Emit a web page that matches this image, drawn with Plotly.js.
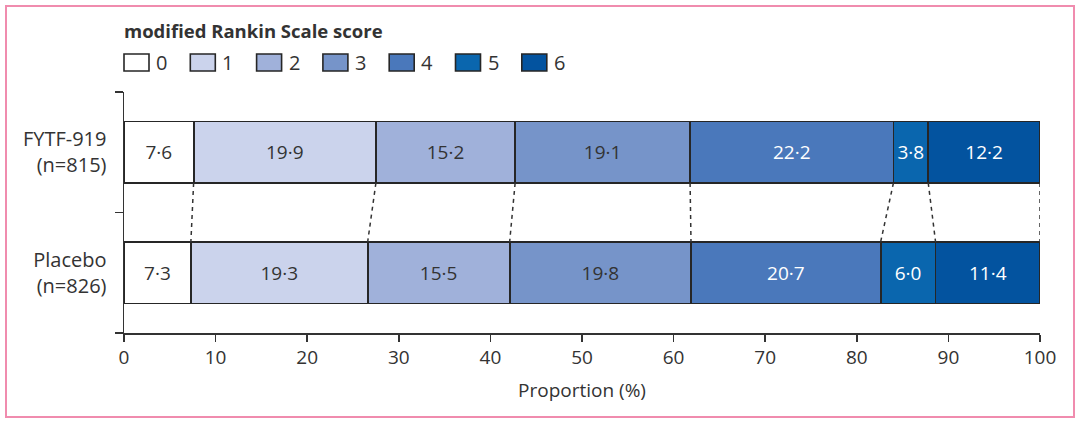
<!DOCTYPE html>
<html>
<head>
<meta charset="utf-8">
<script src="https://cdn.plot.ly/plotly-3.0.1.min.js"></script>
<style>
html,body{margin:0;padding:0;background:#fff;}
#wrap{position:relative;width:1080px;height:422px;}
#chart{width:1080px;height:422px;}
#frame{position:absolute;left:5px;top:5px;width:1066px;height:409px;border:2px solid #f08cae;pointer-events:none;}
</style>
</head>
<body>
<div id="wrap"><div id="chart"></div><div id="frame"></div></div>
<script>
// Data
var groups = ["Placebo<br>(n=826)", "FYTF-919<br>(n=815)"];
var scores = ["0", "1", "2", "3", "4", "5", "6"];
var fytf    = [7.6, 19.9, 15.2, 19.1, 22.2, 3.8, 12.2];
var placebo = [7.3, 19.3, 15.5, 19.8, 20.7, 6.0, 11.4];
var xTicks = [0, 10, 20, 30, 40, 50, 60, 70, 80, 90, 100];
var legendTitle = "modified Rankin Scale score";
var xTitle = "Proportion (%)";
var colors = ["#ffffff", "#cbd3ec", "#a0b1da", "#7694c9", "#4a78bb", "#0a66ae", "#03539f"];
var textColors = ["#333333", "#333333", "#333333", "#333333", "#ffffff", "#ffffff", "#ffffff"];

var FONT = "'Open Sans', 'Noto Sans', sans-serif";
var TXT = "#333333";
var BARW = 0.51;

var W = 1080, H = 422;
var M = {l: 124, r: 40, t: 92, b: 89};
var PW = W - M.l - M.r, PH = H - M.t - M.b;
function px2x(p){ return (p - M.l) / PW; }      // page px -> paper x
function py2y(p){ return (H - M.b - p) / PH; }  // page px -> paper y

function fmt(v){ return v.toFixed(1).replace(".", "\u00b7"); }

var traces = scores.map(function(s, i){
  var vals = [placebo[i], fytf[i]];
  return {
    type: "bar",
    orientation: "h",
    name: s,
    y: [0, 1],
    x: vals,
    width: BARW,
    text: vals.map(fmt),
    textposition: "inside",
    insidetextanchor: "middle",
    textangle: 0,
    constraintext: "none",
    textfont: {family: FONT, size: 19, color: textColors[i]},
    marker: {color: colors[i], line: {color: "#262626", width: 1.8}},
    showlegend: false,
    hoverinfo: "skip"
  };
});

// invisible trace to activate yaxis2 for boundary ticks
traces.push({type: "scatter", x: [0], y: [0], yaxis: "y2", mode: "markers",
  marker: {opacity: 0}, showlegend: false, hoverinfo: "skip"});

// dashed connectors between cumulative boundaries
var shapes = [];
var cf = 0, cp = 0;
for (var i = 0; i < scores.length; i++) {
  cf += fytf[i]; cp += placebo[i];
  shapes.push({
    type: "line", xref: "x", yref: "y",
    x0: cf, y0: 1 - BARW/2, x1: cp, y1: 0 + BARW/2,
    line: {color: "#333333", width: 1.5, dash: "4px,4px"}
  });
}

// custom legend
var annotations = [];
var LEG_STEP = 66.3, BOX_W = 25, BOX_TOP = 54, BOX_BOT = 71;
annotations.push({
  xref: "paper", yref: "paper", x: px2x(122), y: py2y(30),
  xanchor: "left", yanchor: "middle", showarrow: false,
  text: "<b>" + legendTitle + "</b>",
  font: {family: FONT, size: 18.5, color: TXT}
});
scores.forEach(function(s, i){
  var x0 = 124 + i * LEG_STEP;
  shapes.push({
    type: "rect", xref: "paper", yref: "paper",
    x0: px2x(x0), x1: px2x(x0 + BOX_W), y0: py2y(BOX_BOT), y1: py2y(BOX_TOP),
    fillcolor: colors[i], line: {color: "#262626", width: 1.6}
  });
  annotations.push({
    xref: "paper", yref: "paper", x: px2x(x0 + BOX_W + 5), y: py2y(62),
    xanchor: "left", yanchor: "middle", showarrow: false,
    text: s, font: {family: FONT, size: 20, color: TXT}
  });
});

var layout = {
  width: W, height: H,
  margin: M,
  paper_bgcolor: "#ffffff",
  plot_bgcolor: "#ffffff",
  barmode: "stack",
  font: {family: FONT, color: TXT, size: 16},
  showlegend: false,
  xaxis: {
    range: [0, 100],
    tickvals: xTicks,
    ticks: "outside", ticklen: 7, tickwidth: 1.5, tickcolor: "#333",
    showline: true, linecolor: "#333", linewidth: 1.5,
    showgrid: false, zeroline: false,
    tickfont: {size: 19, family: FONT, color: TXT},
    title: {text: xTitle, font: {size: 19, family: FONT, color: TXT}, standoff: 14},
    fixedrange: true
  },
  yaxis: {
    type: "linear",
    range: [-0.5, 1.5],
    tickvals: [0, 1],
    ticktext: groups,
    ticks: "",
    showline: true, linecolor: "#333", linewidth: 1.5,
    showgrid: false, zeroline: false,
    tickfont: {size: 20, family: FONT, color: TXT},
    ticklabelstandoff: 12,
    fixedrange: true
  },
  yaxis2: {
    overlaying: "y",
    range: [-0.5, 1.5],
    tickvals: [-0.5, 0.5, 1.5],
    ticktext: ["", "", ""],
    ticks: "outside", ticklen: 8, tickwidth: 1.5, tickcolor: "#333",
    showline: false, showgrid: false, zeroline: false,
    fixedrange: true
  },
  shapes: shapes,
  annotations: annotations
};

Plotly.newPlot("chart", traces, layout, {displayModeBar: false, staticPlot: true});
</script>
</body>
</html>
